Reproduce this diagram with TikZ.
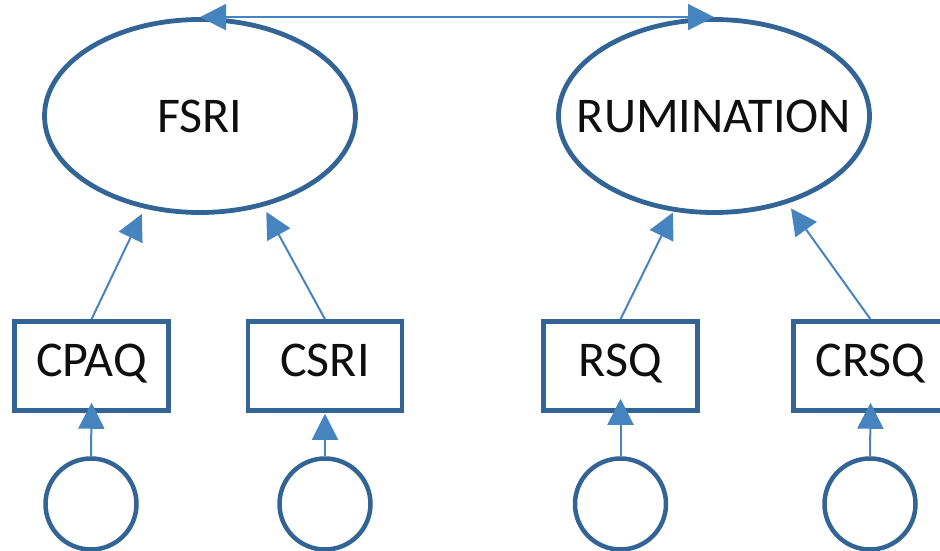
\documentclass[tikz,border=0pt]{standalone}
\usepackage{fontspec}
\setmainfont{Carlito}
\usetikzlibrary{arrows.meta,shapes.geometric}
\definecolor{shapeline}{RGB}{50,100,150}
\definecolor{linkline}{RGB}{70,132,192}
\definecolor{labeltext}{RGB}{15,15,15}
\begin{document}
\begin{tikzpicture}[x=1pt,y=1pt,
  latent/.style={ellipse, draw=shapeline, line width=4.8pt, fill=white,
    minimum width=311pt, minimum height=193pt, inner sep=0pt,
    font=\fontsize{50}{56}\selectfont, text=labeltext},
  observed/.style={rectangle, draw=shapeline, line width=4.5pt, fill=white,
    minimum width=154pt, minimum height=89pt, inner sep=0pt,
    text height=32pt, text depth=12pt,
    font=\fontsize{50}{56}\selectfont, text=labeltext},
  residual/.style={circle, draw=shapeline, line width=4.5pt, fill=white,
    minimum size=91pt, inner sep=0pt},
  head/.tip={Triangle[length=26pt,width=26pt]},
  link/.style={draw=linkline, line width=2pt, -head},
  twoway/.style={draw=linkline, line width=2pt, head-head}
]
\useasboundingbox (0,0) rectangle (940,550);
\clip (0,0) rectangle (940,550);

% latent factors (labels kept zero-width so the ellipses keep their size)
\node[latent] (fsri) at (200,434) {\makebox[0pt]{FSRI}};
\node[latent] (rum)  at (714,434) {\makebox[0pt]{RUMINATION}};

% observed indicators
\node[observed] (cpaq) at (91.5,184)  {CPAQ};
\node[observed] (csri) at (325,184)   {CSRI};
\node[observed] (rsq)  at (620.5,184) {RSQ};
\node[observed] (crsq) at (870.5,184) {CRSQ};

% error terms
\node[residual] (ecpaq) at (91,46)    {};
\node[residual] (ecsri) at (325,46)   {};
\node[residual] (ersq)  at (620.5,46) {};
\node[residual] (ecrsq) at (870,46)   {};

% covariance between the factors
\draw[twoway] (fsri.north) -- (rum.north);

% loadings
\draw[link, shorten >=6pt] (cpaq.north) -- (fsri.-121.5);
\draw[link, shorten >=6pt] (csri.north) -- (fsri.-55.3);
\draw[link, shorten >=1pt] (rsq.north)  -- (rum.-113.5);
\draw[link, shorten >=6pt] (crsq.north) -- (rum.-50.8);

% error paths
\draw[link, shorten >=-10pt] (ecpaq.north) -- (cpaq.south);
\draw[link, shorten >=1pt]   (ecsri.north) -- (csri.south);
\draw[link, shorten >=-14pt] (ersq.north)  -- (rsq.south);
\draw[link, shorten >=-10pt] (ecrsq.north) -- (crsq.south);
\end{tikzpicture}
\end{document}
